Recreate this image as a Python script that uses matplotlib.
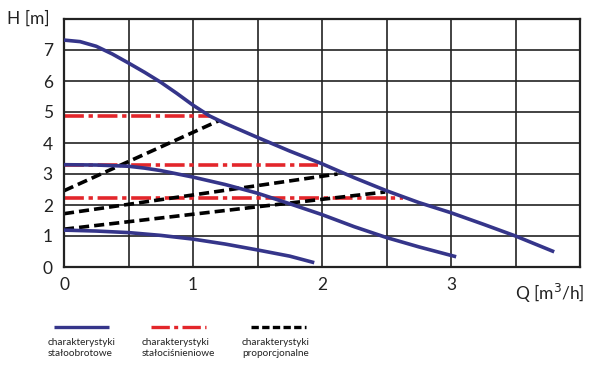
import matplotlib
matplotlib.use('Agg')
import matplotlib.pyplot as plt
from matplotlib.lines import Line2D

plt.rcParams['font.family'] = ['Lato', 'DejaVu Sans']

BLUE = '#35358a'
RED = '#e3262b'

# stałoobrotowe (constant speed) curves
q_high = [0, 0.125, 0.25, 0.375, 0.5, 0.625, 0.75, 0.875, 1.0, 1.13, 1.25, 1.5,
          1.75, 2.0, 2.25, 2.5, 2.75, 3.0, 3.25, 3.5, 3.8]
h_high = [7.32, 7.27, 7.12, 6.87, 6.58, 6.28, 5.96, 5.6, 5.22, 4.87, 4.63, 4.18,
          3.74, 3.33, 2.88, 2.46, 2.08, 1.75, 1.38, 1.0, 0.49]
q_mid = [0, 0.25, 0.5, 0.625, 0.75, 1.0, 1.25, 1.5, 1.75, 2.0, 2.25, 2.5, 2.75, 3.04]
h_mid = [3.3, 3.29, 3.25, 3.19, 3.11, 2.9, 2.66, 2.38, 2.04, 1.69, 1.3, 0.95, 0.65, 0.33]
q_low = [0, 0.25, 0.5, 0.75, 1.0, 1.25, 1.5, 1.75, 1.94]
h_low = [1.19, 1.16, 1.11, 1.02, 0.9, 0.74, 0.55, 0.35, 0.14]

# stałociśnieniowe (constant pressure): head, end of flow
const_h = [4.87, 3.3, 2.22]
const_q_end = [1.13, 1.97, 2.63]

# proporcjonalne (proportional): start head, end flow, end head
prop_h0 = [2.46, 1.72, 1.22]
prop_q1 = [1.2, 2.12, 2.49]
prop_h1 = [4.72, 3.0, 2.42]

x_labels = ['0', '', '1', '', '2', '', '3', '', '']
y_labels = ['0', '1', '2', '3', '4', '5', '6', '7', '']

fig = plt.figure(figsize=(6, 3.72), dpi=100)
ax = fig.add_axes([64 / 600, 1 - 267 / 372, 516 / 600, 248 / 372])

ax.set_xlim(0, 4)
ax.set_ylim(0, 8)
ax.set_xticks([i * 0.5 for i in range(9)])
ax.set_yticks(range(9))
ax.grid(True, color='#222222', linewidth=1.2)
ax.set_axisbelow(True)
ax.tick_params(length=0, labelsize=12.5, colors='#222222')
ax.set_xticklabels(x_labels)
ax.set_yticklabels(y_labels)
ax.tick_params(axis='x', pad=7)
ax.tick_params(axis='y', pad=8)
for s in ax.spines.values():
    s.set_linewidth(1.6)
    s.set_color('#222222')

lw = 2.6
for q, h in [(q_high, h_high), (q_mid, h_mid), (q_low, h_low)]:
    ax.plot(q, h, color=BLUE, lw=lw, solid_capstyle='butt',
            solid_joinstyle='round', zorder=3)

for h, q1 in zip(const_h, const_q_end):
    ax.plot([0, q1], [h, h], color=RED, lw=lw, dashes=(5.5, 1.3, 1.2, 1.3),
            dash_capstyle='butt', zorder=2)

for h0, q1, h1 in zip(prop_h0, prop_q1, prop_h1):
    ax.plot([0, q1], [h0, h1], color='black', lw=lw, dashes=(2.8, 1.4),
            dash_capstyle='butt', zorder=2)

fig.text(7 / 600, 1 - 19 / 372, 'H [m]', fontsize=12.5, color='#222222', va='center', ha='left')
fig.text(585 / 600, 1 - 293 / 372, 'Q [m$^3$/h]', fontsize=12.5, color='#222222', va='center', ha='right')

# legend drawn by hand below the chart
leg_y = 1 - 326.7 / 372
items = [
    (54, 109, 48, BLUE, None, 'charakterystyki\nstałoobrotowe'),
    (151, 206, 142, RED, (5.5, 1.3, 1.2, 1.3), 'charakterystyki\nstałociśnieniowe'),
    (251, 306, 242, 'black', (2.2, 1.0), 'charakterystyki\nproporcjonalne'),
]
for x0, x1, tx, c, d, label in items:
    ln = Line2D([x0 / 600, x1 / 600], [leg_y, leg_y], color=c, lw=2.4,
                transform=fig.transFigure, solid_capstyle='butt', dash_capstyle='butt')
    if d:
        ln.set_dashes(d)
    fig.add_artist(ln)
    fig.text(tx / 600, 1 - 338 / 372, label, fontsize=7.2, color='#222222',
             va='top', ha='left', linespacing=1.25)

fig.savefig('out.png', dpi=100)
